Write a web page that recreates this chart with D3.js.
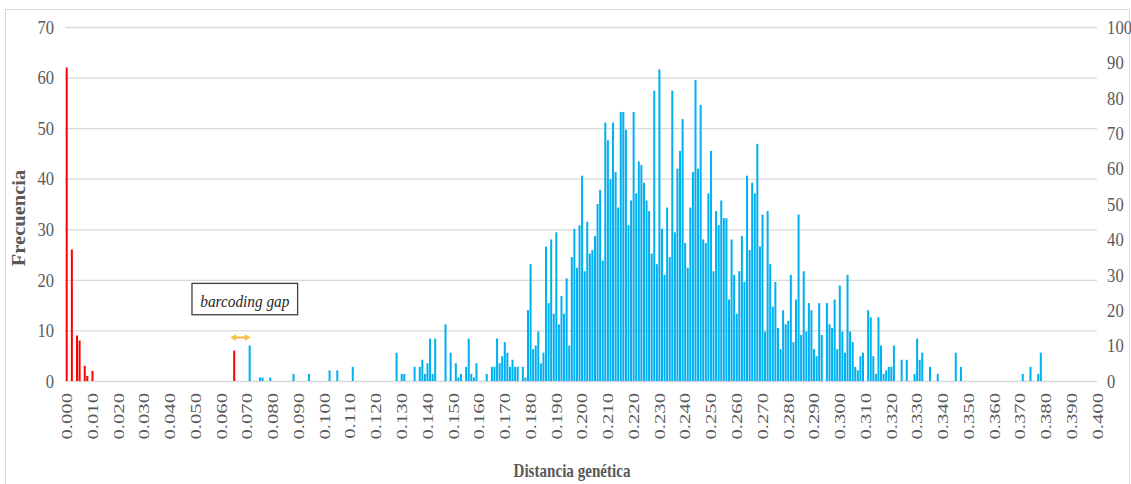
<!DOCTYPE html>
<html lang="es">
<head>
<meta charset="UTF-8">
<script src="https://d3js.org/d3.v7.min.js"></script>
<style>
    body { margin: 0; background: #fff; }
    svg text { font-family: "Liberation Serif", "Times New Roman", serif; }
</style>
</head>
<body>
<div id="chart"></div>
<script>
// intraspecific distances (left axis)
const redDist = [0.000, 0.002, 0.004, 0.005, 0.007, 0.008, 0.010, 0.065];
const redFreq = [62, 26, 9, 8, 3, 1, 2, 6];

// interspecific distances (right axis), one value per 0.001 starting at 0.071
const blueFirst = 0.071;
const blueFreq = [
    10, 0, 0, 0, 1, 1, 0, 0, 1, 0,        // 0.071
    0, 0, 0, 0, 0, 0, 0, 2, 0, 0,         // 0.081
    0, 0, 0, 2, 0, 0, 0, 0, 0, 0,         // 0.091
    0, 3, 0, 0, 3, 0, 0, 0, 0, 0,         // 0.101
    4, 0, 0, 0, 0, 0, 0, 0, 0, 0,         // 0.111
    0, 0, 0, 0, 0, 0, 0, 8, 0, 2,         // 0.121
    2, 0, 0, 0, 4, 0, 4, 6, 2, 5,         // 0.131
    12, 2, 12, 0, 0, 0, 16, 0, 8, 0,      // 0.141
    5, 1, 2, 0, 4, 12, 2, 1, 5, 0,        // 0.151
    0, 0, 2, 0, 4, 4, 12, 5, 7, 11,       // 0.161
    8, 4, 6, 4, 4, 0, 4, 1, 20, 33,       // 0.171
    9, 10, 14, 5, 8, 38, 22, 40, 19, 42,  // 0.181
    16, 24, 19, 29, 10, 35, 43, 32, 44, 58, // 0.191
    31, 45, 36, 37, 41, 50, 54, 34, 73, 68, // 0.201
    57, 73, 59, 49, 76, 76, 71, 44, 51, 76, // 0.211
    53, 62, 61, 56, 51, 48, 36, 82, 33, 88, // 0.221
    43, 30, 49, 35, 82, 42, 60, 65, 74, 39, // 0.231
    32, 49, 59, 85, 60, 78, 40, 39, 53, 65, // 0.241
    31, 48, 44, 51, 46, 46, 23, 40, 30, 19, // 0.251
    31, 41, 28, 58, 37, 56, 53, 67, 38, 47, // 0.261
    14, 48, 33, 21, 28, 15, 9, 20, 16, 17,  // 0.271
    30, 11, 23, 47, 13, 31, 14, 22, 20, 9,  // 0.281
    7, 22, 13, 0, 22, 16, 15, 23, 9, 27,    // 0.291
    14, 8, 30, 14, 11, 4, 3, 7, 8, 0,       // 0.301
    20, 18, 7, 2, 18, 10, 2, 3, 4, 4,       // 0.311
    10, 0, 0, 6, 0, 6, 0, 0, 2, 12,         // 0.321
    6, 8, 0, 0, 4, 0, 0, 2, 0, 0,           // 0.331
    0, 0, 0, 0, 8, 0, 4, 0, 0, 0,           // 0.341
    0, 0, 0, 0, 0, 0, 0, 0, 0, 0,           // 0.351
    0, 0, 0, 0, 0, 0, 0, 0, 0, 0,           // 0.361
    2, 0, 0, 4, 0, 0, 2, 8                  // 0.371
];

const leftTicks = [0, 10, 20, 30, 40, 50, 60, 70];
const rightTicks = [0, 10, 20, 30, 40, 50, 60, 70, 80, 90, 100];
const xTickLabels = ["0.000", "0.010", "0.020", "0.030", "0.040", "0.050", "0.060", "0.070", "0.080", "0.090",
    "0.100", "0.110", "0.120", "0.130", "0.140", "0.150", "0.160", "0.170", "0.180", "0.190",
    "0.200", "0.210", "0.220", "0.230", "0.240", "0.250", "0.260", "0.270", "0.280", "0.290",
    "0.300", "0.310", "0.320", "0.330", "0.340", "0.350", "0.360", "0.370", "0.380", "0.390", "0.400"];

const width = 1131, height = 484;
const plot = {left: 65, right: 1097, top: 27, bottom: 381};
const grey = "#595959";

const toBin = d => Math.round(d * 1000);
const redData = redDist.map((d, i) => ({bin: toBin(d), v: redFreq[i]}));
const blueData = blueFreq.map((v, i) => ({bin: toBin(blueFirst) + i, v})).filter(d => d.v > 0);

const svg = d3.select("#chart").append("svg")
    .attr("width", width)
    .attr("height", height);

svg.append("rect")
    .attr("x", 5.5).attr("y", 9.5)
    .attr("width", 1124).attr("height", 490)
    .attr("fill", "#fff")
    .attr("stroke", "#d9d9d9");

const x = d3.scaleBand()
    .domain(d3.range(0, 401))
    .range([65.7, 1098.5])
    .paddingInner(0.22);

const yL = d3.scaleLinear().domain([0, 70]).range([plot.bottom, plot.top]);
const yR = d3.scaleLinear().domain([0, 100]).range([plot.bottom, plot.top]);

// gridlines + left axis
svg.append("g")
    .attr("transform", `translate(${plot.left},0)`)
    .call(d3.axisLeft(yL).tickValues(leftTicks).tickSize(-(plot.right - plot.left)).tickPadding(12))
    .attr("font-size", 18)
    .call(g => g.select(".domain").remove())
    .call(g => g.selectAll("line").attr("stroke", "#d9d9d9").attr("stroke-width", 1.3))
    .call(g => g.selectAll("text").attr("fill", grey).attr("transform", "scale(0.92,1.08)"));

// right axis
svg.append("g")
    .attr("transform", `translate(${plot.right},0)`)
    .call(d3.axisRight(yR).tickValues(rightTicks).tickSize(0).tickPadding(11))
    .attr("font-size", 18)
    .call(g => g.select(".domain").remove())
    .call(g => g.selectAll("text").attr("fill", grey).attr("transform", "scale(0.92,1.08)"));

// x axis
svg.append("g")
    .attr("transform", `translate(0,${plot.bottom})`)
    .call(d3.axisBottom(x)
        .tickValues(xTickLabels.map(t => toBin(+t)))
        .tickFormat((b, i) => xTickLabels[i])
        .tickSize(0))
    .attr("font-size", 18)
    .call(g => g.select(".domain").remove())
    .call(g => g.selectAll("text")
        .attr("x", 0).attr("y", 0).attr("dy", "0.35em")
        .attr("text-anchor", "end")
        .attr("fill", grey)
        .attr("transform", "translate(0,12) scale(0.84,1.15) rotate(-90)"));

// bars
svg.selectAll(".blue")
    .data(blueData)
    .enter()
    .append("rect")
    .attr("class", "blue")
    .attr("x", d => x(d.bin))
    .attr("y", d => yR(d.v))
    .attr("width", x.bandwidth())
    .attr("height", d => yR(0) - yR(d.v))
    .attr("fill", "#00b0f0");

svg.selectAll(".red")
    .data(redData)
    .enter()
    .append("rect")
    .attr("class", "red")
    .attr("x", d => x(d.bin))
    .attr("y", d => yL(d.v))
    .attr("width", x.bandwidth())
    .attr("height", d => yL(0) - yL(d.v))
    .attr("fill", "#ff0000");

// axis titles
svg.append("text")
    .attr("transform", "translate(19,218) scale(1,1.14) rotate(-90)")
    .attr("text-anchor", "middle")
    .attr("dy", "0.35em")
    .attr("font-size", 18)
    .attr("font-weight", "bold")
    .attr("fill", grey)
    .text("Frecuencia");

svg.append("text")
    .attr("transform", "translate(572,476.5) scale(0.84,1)")
    .attr("text-anchor", "middle")
    .attr("font-size", 18)
    .attr("font-weight", "bold")
    .attr("fill", grey)
    .text("Distancia genética");

// barcoding gap annotation
const boxX0 = x(49), boxX1 = x(90);
svg.append("rect")
    .attr("x", boxX0).attr("y", yL(19.3))
    .attr("width", boxX1 - boxX0).attr("height", yL(13.1) - yL(19.3))
    .attr("fill", "#fff")
    .attr("stroke", "#404040")
    .attr("stroke-width", 1.3);

svg.append("text")
    .attr("transform", `translate(${(boxX0 + boxX1) / 2},${yL(14.7)}) scale(0.9,1)`)
    .attr("text-anchor", "middle")
    .attr("font-size", 17)
    .attr("font-style", "italic")
    .attr("fill", "#262626")
    .text("barcoding gap");

const arrowColor = "#fbbf45";
const ax0 = x(65) + x.bandwidth() / 2 - 4;
const ax1 = x(71) + x.bandwidth() / 2 + 1;
const ay = yL(8.6);
svg.append("line")
    .attr("x1", ax0 + 5).attr("x2", ax1 - 5)
    .attr("y1", ay).attr("y2", ay)
    .attr("stroke", arrowColor)
    .attr("stroke-width", 2.2);
svg.append("path")
    .attr("d", `M${ax0},${ay} l6,-3.5 v7 Z M${ax1},${ay} l-6,-3.5 v7 Z`)
    .attr("fill", arrowColor);
</script>
</body>
</html>
